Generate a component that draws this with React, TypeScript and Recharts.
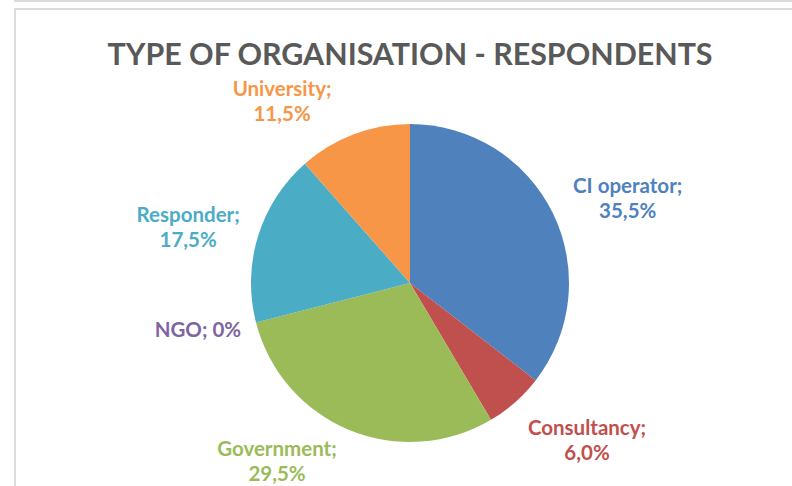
import React from 'react';
import { PieChart, Pie, Cell } from 'recharts';

const categories = ['CI operator', 'Consultancy', 'Government', 'NGO', 'Responder', 'University'];
const shares = [35.5, 6.0, 29.5, 0, 17.5, 11.5];
const colors = ['#4F81BD', '#C0504D', '#9BBB59', '#8064A2', '#4BACC6', '#F79646'];

// Excel "best fit" placement: per-slice nudge of the label angle (degrees, clockwise) and distance past the rim
const labelAngleShift = [4.6, -7.2, 14.3, 2.2, -2.7, -14.3];
const labelGap = [75, 77, 63, 58, 70, 64];

const data = categories.map((name, i) => ({ name, value: shares[i] }));

const RAD = Math.PI / 180;

const formatShare = (v: number) => (v === 0 ? '0%' : v.toFixed(1).replace('.', ',') + '%');

const renderLabel = (props: any) => {
  const { cx, cy, midAngle, outerRadius, index } = props;
  const angle = midAngle - labelAngleShift[index];
  const r = outerRadius + labelGap[index];
  const x = cx + r * Math.cos(-angle * RAD);
  const y = cy + r * Math.sin(-angle * RAD);
  const v = shares[index];
  const style = {
    fontFamily: 'Lato, "Open Sans", sans-serif',
    fontWeight: 700,
    fontSize: 20.5,
    fill: colors[index],
  };
  if (v === 0) {
    return (
      <text key={`lbl-${index}`} x={x} y={y} textAnchor="middle" dominantBaseline="central" style={style}>
        {`${categories[index]}; ${formatShare(v)}`}
      </text>
    );
  }
  return (
    <text key={`lbl-${index}`} x={x} y={y} textAnchor="middle" dominantBaseline="central" style={style}>
      <tspan x={x} y={y - 12.5}>{`${categories[index]};`}</tspan>
      <tspan x={x} y={y + 12.5}>{formatShare(v)}</tspan>
    </text>
  );
};

export default function App() {
  return (
    <div style={{ position: 'fixed', left: 0, top: 0, width: 792, height: 486, background: '#fff', overflow: 'hidden' }}>
      <div style={{ position: 'absolute', left: 14, top: 0, width: 800, height: 2, background: '#dcdcdc' }} />
      <div
        style={{
          position: 'absolute',
          left: 14,
          top: 8,
          width: 800,
          height: 500,
          borderLeft: '2px solid #dcdcdc',
          borderTop: '2px solid #dcdcdc',
        }}
      />
      <svg width={792} height={486} style={{ position: 'absolute', left: 0, top: 0 }}>
        <text
          x={410}
          y={65}
          textAnchor="middle"
          textLength={605}
          lengthAdjust="spacingAndGlyphs"
          style={{ fontFamily: 'Lato, "Open Sans", sans-serif', fontWeight: 700, fontSize: 31, fill: '#595959' }}
        >
          TYPE OF ORGANISATION - RESPONDENTS
        </text>
      </svg>
      <div style={{ position: 'absolute', left: 0, top: 0 }}>
        <PieChart width={792} height={486} margin={{ top: 0, right: 0, bottom: 0, left: 0 }}>
          <Pie
            data={data}
            dataKey="value"
            nameKey="name"
            cx={410}
            cy={283}
            outerRadius={159}
            startAngle={90}
            endAngle={-270}
            stroke="none"
            label={renderLabel}
            labelLine={false}
            isAnimationActive={false}
          >
            {data.map((d, i) => (
              <Cell key={d.name} fill={colors[i]} />
            ))}
          </Pie>
        </PieChart>
      </div>
    </div>
  );
}
